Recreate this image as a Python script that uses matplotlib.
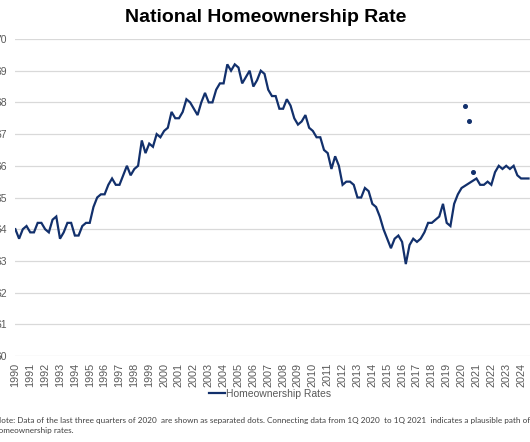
import matplotlib
matplotlib.use("Agg")
import matplotlib.pyplot as plt
import numpy as np
from matplotlib.lines import Line2D

# Quarterly homeownership rate (%) from 1Q 1990 to 3Q 2024
years = list(range(1990, 2025))
rates = [
    64.0, 63.7, 64.0, 64.1,   # 1990
    63.9, 63.9, 64.2, 64.2,   # 1991
    64.0, 63.9, 64.3, 64.4,   # 1992
    63.7, 63.9, 64.2, 64.2,   # 1993
    63.8, 63.8, 64.1, 64.2,   # 1994
    64.2, 64.7, 65.0, 65.1,   # 1995
    65.1, 65.4, 65.6, 65.4,   # 1996
    65.4, 65.7, 66.0, 65.7,   # 1997
    65.9, 66.0, 66.8, 66.4,   # 1998
    66.7, 66.6, 67.0, 66.9,   # 1999
    67.1, 67.2, 67.7, 67.5,   # 2000
    67.5, 67.7, 68.1, 68.0,   # 2001
    67.8, 67.6, 68.0, 68.3,   # 2002
    68.0, 68.0, 68.4, 68.6,   # 2003
    68.6, 69.2, 69.0, 69.2,   # 2004
    69.1, 68.6, 68.8, 69.0,   # 2005
    68.5, 68.7, 69.0, 68.9,   # 2006
    68.4, 68.2, 68.2, 67.8,   # 2007
    67.8, 68.1, 67.9, 67.5,   # 2008
    67.3, 67.4, 67.6, 67.2,   # 2009
    67.1, 66.9, 66.9, 66.5,   # 2010
    66.4, 65.9, 66.3, 66.0,   # 2011
    65.4, 65.5, 65.5, 65.4,   # 2012
    65.0, 65.0, 65.3, 65.2,   # 2013
    64.8, 64.7, 64.4, 64.0,   # 2014
    63.7, 63.4, 63.7, 63.8,   # 2015
    63.6, 62.9, 63.5, 63.7,   # 2016
    63.6, 63.7, 63.9, 64.2,   # 2017
    64.2, 64.3, 64.4, 64.8,   # 2018
    64.2, 64.1, 64.8, 65.1,   # 2019
    65.3, 67.9, 67.4, 65.8,   # 2020 (Q2-Q4 shown as dots)
    65.6, 65.4, 65.4, 65.5,   # 2021
    65.4, 65.8, 66.0, 65.9,   # 2022
    66.0, 65.9, 66.0, 65.7,   # 2023
    65.6, 65.6, 65.6,         # 2024
]
separated_quarters = ["2020Q2", "2020Q3", "2020Q4"]

title = "National Homeownership Rate"
legend_label = "Homeownership Rates"
note_line1 = ("Note: Data of the last three quarters of 2020  are shown as separated dots. "
              "Connecting data from 1Q 2020  to 1Q 2021  indicates a plausible path of")
note_line2 = "homeownership rates."

# ---- build positions ----
idx = np.arange(len(rates))
qnames = [f"{1990 + i // 4}Q{i % 4 + 1}" for i in idx]
is_dot = np.array([q in separated_quarters for q in qnames])
vals = np.array(rates)

W, H = 530, 442
fig = plt.figure(figsize=(W / 100, H / 100), dpi=100)
ax = fig.add_axes([15 / W, 1 - 356 / H, 1 - 15 / W, (356 - 39) / H])

navy = "#12306c"
ax.plot(idx[~is_dot], vals[~is_dot], color=navy, lw=1.6, solid_joinstyle="miter", zorder=3)
ax.plot(idx[is_dot], vals[is_dot], "o", color=navy, ms=2.6, zorder=3, label="_nolegend_")

ax.set_ylim(60, 70)
ax.set_xlim(-0.1, 138.4)
ax.set_yticks(np.arange(60, 71, 1))
ax.set_yticklabels([str(v) for v in range(60, 71)])
ax.set_xticks([(y - 1990) * 4 for y in years])
ax.set_xticklabels([str(y) for y in years], rotation=90)

font = "Liberation Sans"
ax.tick_params(axis="both", length=0, labelcolor="#595959")
ax.tick_params(axis="y", pad=6, labelsize=7.5)
ax.tick_params(axis="x", pad=5, labelsize=7.8)
for lab in ax.get_xticklabels() + ax.get_yticklabels():
    lab.set_family(font)

ax.grid(axis="y", color="#d9d9d9", lw=0.9)
ax.set_axisbelow(True)
for s in ax.spines.values():
    s.set_visible(False)

fig.text(265.5 / W, 1 - 18 / H, title, ha="center", va="center",
         fontsize=14, fontweight="bold", family=font, color="black")

h = Line2D([], [], color=navy, lw=1.6)
fig.legend([h], [legend_label], loc="center", bbox_to_anchor=(270 / W, 1 - 394 / H),
           frameon=False, handlelength=1.6, handletextpad=0.1,
           prop={"family": font, "size": 7.5}, labelcolor="#595959")

note_font = ["Lato", "DejaVu Sans"]
fig.text(-5 / W, 1 - 420 / H, note_line1, ha="left", va="center", fontsize=5.9,
         family=note_font, color="#404040")
fig.text(-6 / W, 1 - 430.5 / H, note_line2, ha="left", va="center", fontsize=5.9,
         family=note_font, color="#404040")

fig.savefig("out.png", dpi=100)
